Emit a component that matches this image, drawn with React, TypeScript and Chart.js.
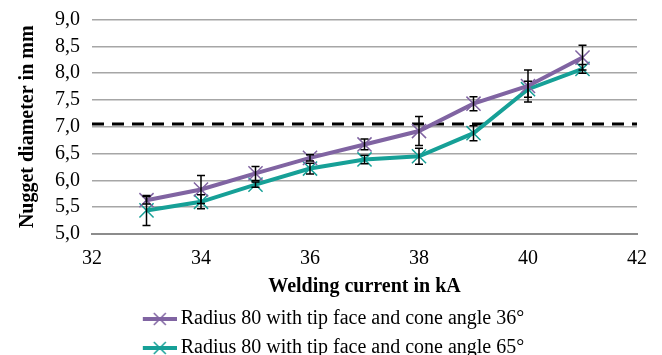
import React, { useEffect, useRef } from "react";
import { Chart, registerables } from "chart.js";

Chart.register(...registerables);

// ---- data ----
const currents = [33, 34, 35, 36, 37, 38, 39, 40, 41];
const diameter36 = [5.63, 5.83, 6.13, 6.42, 6.67, 6.92, 7.43, 7.76, 8.29];
const diameter65 = [5.44, 5.6, 5.92, 6.22, 6.39, 6.45, 6.88, 7.7, 8.08];
const error36 = [0.07, 0.26, 0.13, 0.06, 0.1, 0.27, 0.13, 0.3, 0.23];
const error65 = [0.28, 0.13, 0.05, 0.1, 0.08, 0.15, 0.14, 0.15, 0.08];
const limitX = [32, 42];
const limitY = 7.05;
const label36 = "Radius 80 with tip face and cone angle 36°";
const label65 = "Radius 80 with tip face and cone angle 65°";
const xTitle = "Welding current in kA";
const yTitle = "Nugget diameter in mm";

const PURPLE = "#8064A2";
const TEAL = "#16A097";
const FONT = "'Liberation Serif', 'Times New Roman', serif";

function legendIcon(color: string): HTMLCanvasElement {
  const c = document.createElement("canvas");
  c.width = 62;
  c.height = 16;
  const ctx = c.getContext("2d")!;
  ctx.strokeStyle = color;
  ctx.lineWidth = 4;
  ctx.beginPath();
  ctx.moveTo(28, 8);
  ctx.lineTo(62, 8);
  ctx.stroke();
  ctx.lineWidth = 1.5;
  ctx.beginPath();
  ctx.moveTo(39, 2);
  ctx.lineTo(51, 14);
  ctx.moveTo(51, 2);
  ctx.lineTo(39, 14);
  ctx.stroke();
  return c;
}

const errorBarPlugin = {
  id: "errorBars",
  afterDatasetsDraw(chart: any) {
    const { ctx, scales } = chart;
    const xs = scales.x;
    const ys = scales.y;
    const sets = [
      { v: diameter36, e: error36 },
      { v: diameter65, e: error65 },
    ];
    ctx.save();
    ctx.strokeStyle = "#000000";
    ctx.lineWidth = 1.5;
    sets.forEach((s) => {
      currents.forEach((cx, i) => {
        const x = xs.getPixelForValue(cx);
        const yt = ys.getPixelForValue(s.v[i] + s.e[i]);
        const yb = ys.getPixelForValue(s.v[i] - s.e[i]);
        ctx.beginPath();
        ctx.moveTo(x, yt);
        ctx.lineTo(x, yb);
        ctx.moveTo(x - 4, yt);
        ctx.lineTo(x + 4, yt);
        ctx.moveTo(x - 4, yb);
        ctx.lineTo(x + 4, yb);
        ctx.stroke();
      });
    });
    ctx.restore();
  },
};

export default function App() {
  const ref = useRef<HTMLCanvasElement | null>(null);

  useEffect(() => {
    if (!ref.current) return;
    const icons = [legendIcon(PURPLE), legendIcon(TEAL)];
    const chart = new Chart(ref.current, {
      type: "line",
      data: {
        datasets: [
          {
            label: label36,
            data: currents.map((x, i) => ({ x, y: diameter36[i] })),
            borderColor: PURPLE,
            backgroundColor: PURPLE,
            borderWidth: 4,
            pointStyle: "crossRot",
            pointRadius: 10,
            pointBorderWidth: 1.5,
            pointBorderColor: PURPLE,
            tension: 0,
          },
          {
            label: label65,
            data: currents.map((x, i) => ({ x, y: diameter65[i] })),
            borderColor: TEAL,
            backgroundColor: TEAL,
            borderWidth: 4,
            pointStyle: "crossRot",
            pointRadius: 10,
            pointBorderWidth: 1.5,
            pointBorderColor: TEAL,
            tension: 0,
          },
          {
            label: "limit",
            data: limitX.map((x) => ({ x, y: limitY })),
            borderColor: "#000000",
            borderWidth: 3,
            borderDash: [12, 8],
            pointRadius: 0,
            tension: 0,
          },
        ],
      },
      options: {
        animation: false,
        responsive: true,
        maintainAspectRatio: false,
        layout: { padding: { left: 0, right: 17, top: 11, bottom: 0 } },
        plugins: {
          tooltip: { enabled: false },
          legend: {
            position: "bottom",
            labels: {
              usePointStyle: true,
              pointStyleWidth: 50,
              padding: 9,
              color: "#000000",
              font: { family: FONT, size: 20 },
              generateLabels: (ch: any) =>
                Chart.defaults.plugins.legend.labels
                  .generateLabels(ch)
                  .filter((it: any) => it.datasetIndex < 2)
                  .map((it: any) => ({ ...it, pointStyle: icons[it.datasetIndex] })),
            },
          },
        },
        scales: {
          x: {
            type: "linear",
            min: 32,
            max: 42,
            afterFit: (s: any) => {
              s.height = 66;
              s.paddingLeft = 0;
              s.paddingRight = 0;
            },
            ticks: {
              stepSize: 2,
              padding: 13,
              color: "#000000",
              font: { family: FONT, size: 20 },
            },
            grid: { drawOnChartArea: false, drawTicks: false },
            border: { display: true, color: "#8C8C8C", width: 2 },
            title: {
              display: true,
              text: xTitle,
              color: "#000000",
              font: { family: FONT, size: 20, weight: "bold" },
              padding: { top: 0, bottom: 1 },
            },
          },
          y: {
            type: "linear",
            min: 5,
            max: 9,
            afterFit: (s: any) => {
              s.width = 84;
              s.paddingTop = 0;
              s.paddingBottom = 0;
            },
            ticks: {
              stepSize: 0.5,
              autoSkip: false,
              padding: 12,
              color: "#000000",
              font: { family: FONT, size: 20 },
              callback: (v: any) => Number(v).toFixed(1).replace(".", ","),
            },
            grid: { color: "#A6A6A6", lineWidth: 1.5, drawTicks: false },
            border: { display: false },
            title: {
              display: true,
              text: yTitle,
              color: "#000000",
              font: { family: FONT, size: 20, weight: "bold" },
              padding: { top: 8, bottom: 0 },
            },
          },
        },
      },
      plugins: [errorBarPlugin],
    } as any);
    return () => chart.destroy();
  }, []);

  return (
    <div style={{ height: 347, overflow: "hidden" }}>
      <div style={{ position: "relative", height: 360 }}>
        <canvas ref={ref} />
      </div>
    </div>
  );
}
